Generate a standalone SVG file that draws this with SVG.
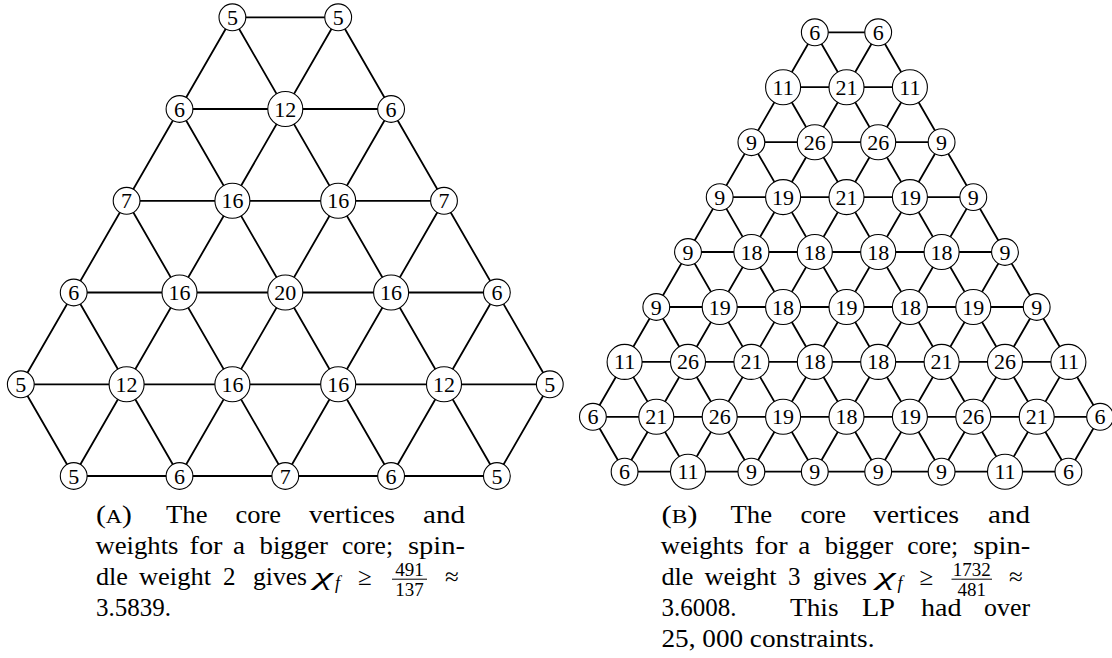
<svg xmlns="http://www.w3.org/2000/svg" width="1112" height="658" viewBox="0 0 1112 658">
<style>
.e line{stroke:#000;stroke-width:1.8;stroke-linecap:round}
circle{fill:#fff;stroke:#000;stroke-width:1.1}
.n{font-family:"Liberation Serif","DejaVu Serif",serif;font-size:22px;text-anchor:middle;fill:#000}
.c{font-family:"Liberation Serif","DejaVu Serif",serif;font-size:25px;fill:#000}
.m{font-family:"Liberation Serif","DejaVu Serif",serif;font-style:italic;fill:#000}
.fr{font-family:"Liberation Serif","DejaVu Serif",serif;font-size:19px;text-anchor:middle;fill:#000}
</style>
<rect width="1112" height="658" fill="#fff"/>
<g id="edgesA" class="e">
<line x1="232.4" y1="17.3" x2="338.2" y2="17.3"/>
<line x1="179.5" y1="109" x2="391.1" y2="109"/>
<line x1="126.6" y1="200.8" x2="444" y2="200.8"/>
<line x1="73.7" y1="292.5" x2="496.9" y2="292.5"/>
<line x1="20.8" y1="384.3" x2="549.8" y2="384.3"/>
<line x1="73.7" y1="476" x2="496.9" y2="476"/>
<line x1="338.2" y1="17.3" x2="549.8" y2="384.3"/>
<line x1="232.4" y1="17.3" x2="496.9" y2="476"/>
<line x1="179.5" y1="109" x2="391.1" y2="476"/>
<line x1="126.6" y1="200.8" x2="285.3" y2="476"/>
<line x1="73.7" y1="292.5" x2="179.5" y2="476"/>
<line x1="20.8" y1="384.3" x2="73.7" y2="476"/>
<line x1="232.4" y1="17.3" x2="20.8" y2="384.3"/>
<line x1="338.2" y1="17.3" x2="73.7" y2="476"/>
<line x1="391.1" y1="109" x2="179.5" y2="476"/>
<line x1="444" y1="200.8" x2="285.3" y2="476"/>
<line x1="496.9" y1="292.5" x2="391.1" y2="476"/>
<line x1="549.8" y1="384.3" x2="496.9" y2="476"/>
</g>
<g id="edgesB" class="e">
<line x1="814.8" y1="32.3" x2="878.2" y2="32.3"/>
<line x1="783.1" y1="87.2" x2="909.9" y2="87.2"/>
<line x1="751.4" y1="142.2" x2="941.6" y2="142.2"/>
<line x1="719.7" y1="197.1" x2="973.3" y2="197.1"/>
<line x1="688" y1="252" x2="1005" y2="252"/>
<line x1="656.3" y1="307" x2="1036.7" y2="307"/>
<line x1="624.6" y1="361.9" x2="1068.4" y2="361.9"/>
<line x1="592.9" y1="416.8" x2="1100.1" y2="416.8"/>
<line x1="624.6" y1="471.7" x2="1068.4" y2="471.7"/>
<line x1="878.2" y1="32.3" x2="1100.1" y2="416.8"/>
<line x1="814.8" y1="32.3" x2="1068.4" y2="471.7"/>
<line x1="783.1" y1="87.2" x2="1005" y2="471.7"/>
<line x1="751.4" y1="142.2" x2="941.6" y2="471.7"/>
<line x1="719.7" y1="197.1" x2="878.2" y2="471.7"/>
<line x1="688" y1="252" x2="814.8" y2="471.7"/>
<line x1="656.3" y1="307" x2="751.4" y2="471.7"/>
<line x1="624.6" y1="361.9" x2="688" y2="471.7"/>
<line x1="592.9" y1="416.8" x2="624.6" y2="471.7"/>
<line x1="814.8" y1="32.3" x2="592.9" y2="416.8"/>
<line x1="878.2" y1="32.3" x2="624.6" y2="471.7"/>
<line x1="909.9" y1="87.2" x2="688" y2="471.7"/>
<line x1="941.6" y1="142.2" x2="751.4" y2="471.7"/>
<line x1="973.3" y1="197.1" x2="814.8" y2="471.7"/>
<line x1="1005" y1="252" x2="878.2" y2="471.7"/>
<line x1="1036.7" y1="307" x2="941.6" y2="471.7"/>
<line x1="1068.4" y1="361.9" x2="1005" y2="471.7"/>
<line x1="1100.1" y1="416.8" x2="1068.4" y2="471.7"/>
</g>
<g id="a0_0"><circle cx="232.4" cy="17.3" r="13.4"/><text class="n" x="232.4" y="24.8">5</text></g>
<g id="a0_1"><circle cx="338.2" cy="17.3" r="13.4"/><text class="n" x="338.2" y="24.8">5</text></g>
<g id="a1_0"><circle cx="179.5" cy="109" r="13.4"/><text class="n" x="179.5" y="116.5">6</text></g>
<g id="a1_1"><circle cx="285.3" cy="109" r="17.5"/><text class="n" x="285.3" y="116.5">12</text></g>
<g id="a1_2"><circle cx="391.1" cy="109" r="13.4"/><text class="n" x="391.1" y="116.5">6</text></g>
<g id="a2_0"><circle cx="126.6" cy="200.8" r="13.4"/><text class="n" x="126.6" y="208.3">7</text></g>
<g id="a2_1"><circle cx="232.4" cy="200.8" r="17.5"/><text class="n" x="232.4" y="208.3">16</text></g>
<g id="a2_2"><circle cx="338.2" cy="200.8" r="17.5"/><text class="n" x="338.2" y="208.3">16</text></g>
<g id="a2_3"><circle cx="444" cy="200.8" r="13.4"/><text class="n" x="444" y="208.3">7</text></g>
<g id="a3_0"><circle cx="73.7" cy="292.5" r="13.4"/><text class="n" x="73.7" y="300">6</text></g>
<g id="a3_1"><circle cx="179.5" cy="292.5" r="17.5"/><text class="n" x="179.5" y="300">16</text></g>
<g id="a3_2"><circle cx="285.3" cy="292.5" r="17.5"/><text class="n" x="285.3" y="300">20</text></g>
<g id="a3_3"><circle cx="391.1" cy="292.5" r="17.5"/><text class="n" x="391.1" y="300">16</text></g>
<g id="a3_4"><circle cx="496.9" cy="292.5" r="13.4"/><text class="n" x="496.9" y="300">6</text></g>
<g id="a4_0"><circle cx="20.8" cy="384.3" r="13.4"/><text class="n" x="20.8" y="391.8">5</text></g>
<g id="a4_1"><circle cx="126.6" cy="384.3" r="17.5"/><text class="n" x="126.6" y="391.8">12</text></g>
<g id="a4_2"><circle cx="232.4" cy="384.3" r="17.5"/><text class="n" x="232.4" y="391.8">16</text></g>
<g id="a4_3"><circle cx="338.2" cy="384.3" r="17.5"/><text class="n" x="338.2" y="391.8">16</text></g>
<g id="a4_4"><circle cx="444" cy="384.3" r="17.5"/><text class="n" x="444" y="391.8">12</text></g>
<g id="a4_5"><circle cx="549.8" cy="384.3" r="13.4"/><text class="n" x="549.8" y="391.8">5</text></g>
<g id="a5_0"><circle cx="73.7" cy="476" r="13.4"/><text class="n" x="73.7" y="483.5">5</text></g>
<g id="a5_1"><circle cx="179.5" cy="476" r="13.4"/><text class="n" x="179.5" y="483.5">6</text></g>
<g id="a5_2"><circle cx="285.3" cy="476" r="13.4"/><text class="n" x="285.3" y="483.5">7</text></g>
<g id="a5_3"><circle cx="391.1" cy="476" r="13.4"/><text class="n" x="391.1" y="483.5">6</text></g>
<g id="a5_4"><circle cx="496.9" cy="476" r="13.4"/><text class="n" x="496.9" y="483.5">5</text></g>
<g id="b0_0"><circle cx="814.8" cy="32.3" r="13.4"/><text class="n" x="814.8" y="39.8">6</text></g>
<g id="b0_1"><circle cx="878.2" cy="32.3" r="13.4"/><text class="n" x="878.2" y="39.8">6</text></g>
<g id="b1_0"><circle cx="783.1" cy="87.2" r="17.5"/><text class="n" x="783.1" y="94.7">11</text></g>
<g id="b1_1"><circle cx="846.5" cy="87.2" r="17.5"/><text class="n" x="846.5" y="94.7">21</text></g>
<g id="b1_2"><circle cx="909.9" cy="87.2" r="17.5"/><text class="n" x="909.9" y="94.7">11</text></g>
<g id="b2_0"><circle cx="751.4" cy="142.2" r="13.4"/><text class="n" x="751.4" y="149.7">9</text></g>
<g id="b2_1"><circle cx="814.8" cy="142.2" r="17.5"/><text class="n" x="814.8" y="149.7">26</text></g>
<g id="b2_2"><circle cx="878.2" cy="142.2" r="17.5"/><text class="n" x="878.2" y="149.7">26</text></g>
<g id="b2_3"><circle cx="941.6" cy="142.2" r="13.4"/><text class="n" x="941.6" y="149.7">9</text></g>
<g id="b3_0"><circle cx="719.7" cy="197.1" r="13.4"/><text class="n" x="719.7" y="204.6">9</text></g>
<g id="b3_1"><circle cx="783.1" cy="197.1" r="17.5"/><text class="n" x="783.1" y="204.6">19</text></g>
<g id="b3_2"><circle cx="846.5" cy="197.1" r="17.5"/><text class="n" x="846.5" y="204.6">21</text></g>
<g id="b3_3"><circle cx="909.9" cy="197.1" r="17.5"/><text class="n" x="909.9" y="204.6">19</text></g>
<g id="b3_4"><circle cx="973.3" cy="197.1" r="13.4"/><text class="n" x="973.3" y="204.6">9</text></g>
<g id="b4_0"><circle cx="688" cy="252" r="13.4"/><text class="n" x="688" y="259.5">9</text></g>
<g id="b4_1"><circle cx="751.4" cy="252" r="17.5"/><text class="n" x="751.4" y="259.5">18</text></g>
<g id="b4_2"><circle cx="814.8" cy="252" r="17.5"/><text class="n" x="814.8" y="259.5">18</text></g>
<g id="b4_3"><circle cx="878.2" cy="252" r="17.5"/><text class="n" x="878.2" y="259.5">18</text></g>
<g id="b4_4"><circle cx="941.6" cy="252" r="17.5"/><text class="n" x="941.6" y="259.5">18</text></g>
<g id="b4_5"><circle cx="1005" cy="252" r="13.4"/><text class="n" x="1005" y="259.5">9</text></g>
<g id="b5_0"><circle cx="656.3" cy="307" r="13.4"/><text class="n" x="656.3" y="314.5">9</text></g>
<g id="b5_1"><circle cx="719.7" cy="307" r="17.5"/><text class="n" x="719.7" y="314.5">19</text></g>
<g id="b5_2"><circle cx="783.1" cy="307" r="17.5"/><text class="n" x="783.1" y="314.5">18</text></g>
<g id="b5_3"><circle cx="846.5" cy="307" r="17.5"/><text class="n" x="846.5" y="314.5">19</text></g>
<g id="b5_4"><circle cx="909.9" cy="307" r="17.5"/><text class="n" x="909.9" y="314.5">18</text></g>
<g id="b5_5"><circle cx="973.3" cy="307" r="17.5"/><text class="n" x="973.3" y="314.5">19</text></g>
<g id="b5_6"><circle cx="1036.7" cy="307" r="13.4"/><text class="n" x="1036.7" y="314.5">9</text></g>
<g id="b6_0"><circle cx="624.6" cy="361.9" r="17.5"/><text class="n" x="624.6" y="369.4">11</text></g>
<g id="b6_1"><circle cx="688" cy="361.9" r="17.5"/><text class="n" x="688" y="369.4">26</text></g>
<g id="b6_2"><circle cx="751.4" cy="361.9" r="17.5"/><text class="n" x="751.4" y="369.4">21</text></g>
<g id="b6_3"><circle cx="814.8" cy="361.9" r="17.5"/><text class="n" x="814.8" y="369.4">18</text></g>
<g id="b6_4"><circle cx="878.2" cy="361.9" r="17.5"/><text class="n" x="878.2" y="369.4">18</text></g>
<g id="b6_5"><circle cx="941.6" cy="361.9" r="17.5"/><text class="n" x="941.6" y="369.4">21</text></g>
<g id="b6_6"><circle cx="1005" cy="361.9" r="17.5"/><text class="n" x="1005" y="369.4">26</text></g>
<g id="b6_7"><circle cx="1068.4" cy="361.9" r="17.5"/><text class="n" x="1068.4" y="369.4">11</text></g>
<g id="b7_0"><circle cx="592.9" cy="416.8" r="13.4"/><text class="n" x="592.9" y="424.3">6</text></g>
<g id="b7_1"><circle cx="656.3" cy="416.8" r="17.5"/><text class="n" x="656.3" y="424.3">21</text></g>
<g id="b7_2"><circle cx="719.7" cy="416.8" r="17.5"/><text class="n" x="719.7" y="424.3">26</text></g>
<g id="b7_3"><circle cx="783.1" cy="416.8" r="17.5"/><text class="n" x="783.1" y="424.3">19</text></g>
<g id="b7_4"><circle cx="846.5" cy="416.8" r="17.5"/><text class="n" x="846.5" y="424.3">18</text></g>
<g id="b7_5"><circle cx="909.9" cy="416.8" r="17.5"/><text class="n" x="909.9" y="424.3">19</text></g>
<g id="b7_6"><circle cx="973.3" cy="416.8" r="17.5"/><text class="n" x="973.3" y="424.3">26</text></g>
<g id="b7_7"><circle cx="1036.7" cy="416.8" r="17.5"/><text class="n" x="1036.7" y="424.3">21</text></g>
<g id="b7_8"><circle cx="1100.1" cy="416.8" r="13.4"/><text class="n" x="1100.1" y="424.3">6</text></g>
<g id="b8_0"><circle cx="624.6" cy="471.7" r="13.4"/><text class="n" x="624.6" y="479.2">6</text></g>
<g id="b8_1"><circle cx="688" cy="471.7" r="17.5"/><text class="n" x="688" y="479.2">11</text></g>
<g id="b8_2"><circle cx="751.4" cy="471.7" r="13.4"/><text class="n" x="751.4" y="479.2">9</text></g>
<g id="b8_3"><circle cx="814.8" cy="471.7" r="13.4"/><text class="n" x="814.8" y="479.2">9</text></g>
<g id="b8_4"><circle cx="878.2" cy="471.7" r="13.4"/><text class="n" x="878.2" y="479.2">9</text></g>
<g id="b8_5"><circle cx="941.6" cy="471.7" r="13.4"/><text class="n" x="941.6" y="479.2">9</text></g>
<g id="b8_6"><circle cx="1005" cy="471.7" r="17.5"/><text class="n" x="1005" y="479.2">11</text></g>
<g id="b8_7"><circle cx="1068.4" cy="471.7" r="13.4"/><text class="n" x="1068.4" y="479.2">6</text></g>
<g id="captionA">
<text class="c" x="96" y="522.5" textLength="36" lengthAdjust="spacingAndGlyphs">(<tspan font-size="19">A</tspan>)</text>
<text class="c" x="166" y="522.5" textLength="41.5" lengthAdjust="spacingAndGlyphs">The</text>
<text class="c" x="235.5" y="522.5" textLength="45.5" lengthAdjust="spacingAndGlyphs">core</text>
<text class="c" x="309" y="522.5" textLength="86" lengthAdjust="spacingAndGlyphs">vertices</text>
<text class="c" x="423" y="522.5" textLength="42" lengthAdjust="spacingAndGlyphs">and</text>
<text class="c" x="95.5" y="553.5" textLength="83" lengthAdjust="spacingAndGlyphs">weights</text>
<text class="c" x="189.5" y="553.5" textLength="33" lengthAdjust="spacingAndGlyphs">for</text>
<text class="c" x="233" y="553.5" textLength="12" lengthAdjust="spacingAndGlyphs">a</text>
<text class="c" x="259.5" y="553.5" textLength="68.5" lengthAdjust="spacingAndGlyphs">bigger</text>
<text class="c" x="342" y="553.5" textLength="51" lengthAdjust="spacingAndGlyphs">core;</text>
<text class="c" x="408" y="553.5" textLength="57" lengthAdjust="spacingAndGlyphs">spin-</text>
<text class="c" x="96" y="584.8" textLength="32" lengthAdjust="spacingAndGlyphs">dle</text>
<text class="c" x="139" y="584.8" textLength="72" lengthAdjust="spacingAndGlyphs">weight</text>
<text class="c" x="223" y="584.8" textLength="12.5" lengthAdjust="spacingAndGlyphs">2</text>
<text class="c" x="253" y="584.8" textLength="54" lengthAdjust="spacingAndGlyphs">gives</text>
<text class="m" x="314" y="584.8" font-size="25" textLength="19" lengthAdjust="spacingAndGlyphs">χ</text>
<text class="m" x="335" y="589" font-size="18">f</text>
<text class="c" x="358" y="584.8">≥</text>
<text class="fr" x="409.5" y="575.5">491</text>
<line x1="392" y1="579.2" x2="427" y2="579.2" stroke="#000" stroke-width="1"/>
<text class="fr" x="409.5" y="596">137</text>
<text class="c" x="445" y="584.8">≈</text>
<text class="c" x="96" y="615.5" textLength="75" lengthAdjust="spacingAndGlyphs">3.5839.</text>
</g>
<g id="captionB">
<text class="c" x="661.5" y="522.5" textLength="36" lengthAdjust="spacingAndGlyphs">(<tspan font-size="19">B</tspan>)</text>
<text class="c" x="730.5" y="522.5" textLength="41.5" lengthAdjust="spacingAndGlyphs">The</text>
<text class="c" x="800.5" y="522.5" textLength="45.5" lengthAdjust="spacingAndGlyphs">core</text>
<text class="c" x="873" y="522.5" textLength="86" lengthAdjust="spacingAndGlyphs">vertices</text>
<text class="c" x="988" y="522.5" textLength="42" lengthAdjust="spacingAndGlyphs">and</text>
<text class="c" x="660.7" y="553.5" textLength="83" lengthAdjust="spacingAndGlyphs">weights</text>
<text class="c" x="754.7" y="553.5" textLength="33" lengthAdjust="spacingAndGlyphs">for</text>
<text class="c" x="798.2" y="553.5" textLength="12" lengthAdjust="spacingAndGlyphs">a</text>
<text class="c" x="824.7" y="553.5" textLength="68.5" lengthAdjust="spacingAndGlyphs">bigger</text>
<text class="c" x="907.2" y="553.5" textLength="51" lengthAdjust="spacingAndGlyphs">core;</text>
<text class="c" x="973.2" y="553.5" textLength="57" lengthAdjust="spacingAndGlyphs">spin-</text>
<text class="c" x="661.5" y="584.8" textLength="32" lengthAdjust="spacingAndGlyphs">dle</text>
<text class="c" x="704.5" y="584.8" textLength="72" lengthAdjust="spacingAndGlyphs">weight</text>
<text class="c" x="788" y="584.8" textLength="12.5" lengthAdjust="spacingAndGlyphs">3</text>
<text class="c" x="813" y="584.8" textLength="54" lengthAdjust="spacingAndGlyphs">gives</text>
<text class="m" x="876.5" y="584.8" font-size="25" textLength="19" lengthAdjust="spacingAndGlyphs">χ</text>
<text class="m" x="897.5" y="589" font-size="18">f</text>
<text class="c" x="919.5" y="584.8">≥</text>
<text class="fr" x="971.7" y="575.5">1732</text>
<line x1="951.5" y1="579.2" x2="992" y2="579.2" stroke="#000" stroke-width="1"/>
<text class="fr" x="971.7" y="596">481</text>
<text class="c" x="1009" y="584.8">≈</text>
<text class="c" x="661.5" y="615.5" textLength="75" lengthAdjust="spacingAndGlyphs">3.6008.</text>
<text class="c" x="790" y="615.5" textLength="48.5" lengthAdjust="spacingAndGlyphs">This</text>
<text class="c" x="862" y="615.5" textLength="33" lengthAdjust="spacingAndGlyphs">LP</text>
<text class="c" x="921" y="615.5" textLength="40.5" lengthAdjust="spacingAndGlyphs">had</text>
<text class="c" x="984" y="615.5" textLength="46" lengthAdjust="spacingAndGlyphs">over</text>
<text class="c" x="661.5" y="646.7" textLength="213" lengthAdjust="spacingAndGlyphs">25, 000 constraints.</text>
</g>
</svg>
